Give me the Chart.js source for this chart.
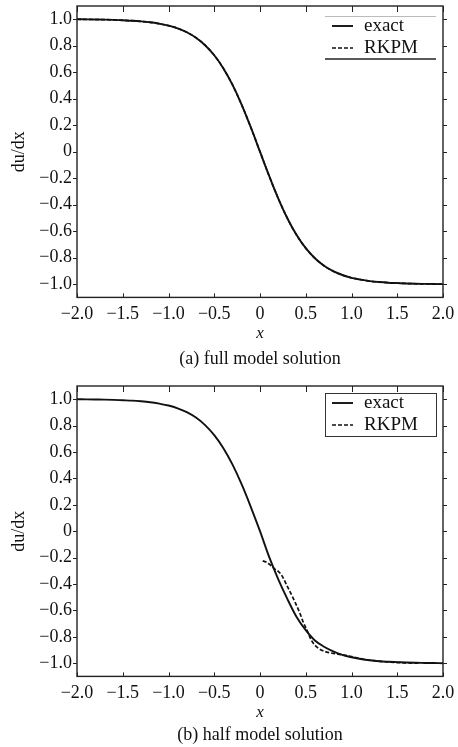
<!DOCTYPE html>
<html>
<head>
<meta charset="utf-8">
<script src="https://cdn.jsdelivr.net/npm/chart.js@4/dist/chart.umd.min.js"></script>
<style>
  html, body { margin: 0; padding: 0; background: #fff; }
  .panel { position: absolute; left: 0; width: 458px; }
</style>
</head>
<body>
<div class="panel" style="top:0;height:372px;"><canvas id="fullChart"></canvas></div>
<div class="panel" style="top:372px;height:375px;"><canvas id="halfChart"></canvas></div>
<script>
// x positions of the sampled curves
const xs = [-2.0, -1.9, -1.8, -1.7, -1.6, -1.5, -1.4, -1.3, -1.2, -1.1,
            -1.0, -0.9, -0.8, -0.7, -0.6, -0.5, -0.4, -0.3, -0.2, -0.1,
             0.0,  0.1,  0.2,  0.3,  0.4,  0.5,  0.6,  0.7,  0.8,  0.9,
             1.0,  1.1,  1.2,  1.3,  1.4,  1.5,  1.6,  1.7,  1.8,  1.9, 2.0];

// (a) full model: exact and RKPM lie on top of each other
const exactFull = [1.000, 0.999, 0.998, 0.997, 0.995, 0.992, 0.989, 0.984, 0.977, 0.966,
                   0.952, 0.931, 0.902, 0.861, 0.804, 0.728, 0.629, 0.504, 0.354, 0.183,
                   0.000, -0.183, -0.354, -0.504, -0.629, -0.728, -0.804, -0.861, -0.902, -0.931,
                   -0.952, -0.966, -0.977, -0.984, -0.989, -0.992, -0.995, -0.997, -0.998, -0.999, -1.000];
const rkpmFull  = [1.000, 0.999, 0.998, 0.997, 0.995, 0.992, 0.989, 0.984, 0.977, 0.966,
                   0.952, 0.931, 0.902, 0.861, 0.804, 0.728, 0.629, 0.504, 0.354, 0.183,
                   0.000, -0.183, -0.354, -0.504, -0.629, -0.728, -0.804, -0.861, -0.902, -0.931,
                   -0.952, -0.966, -0.977, -0.984, -0.989, -0.992, -0.995, -0.997, -0.998, -0.999, -1.000];

// (b) half model
const exactHalf = [1.000, 0.999, 0.998, 0.997, 0.995, 0.992, 0.989, 0.984, 0.977, 0.966,
                   0.952, 0.931, 0.902, 0.861, 0.804, 0.728, 0.629, 0.504, 0.354, 0.183,
                   0.000, -0.195, -0.365, -0.515, -0.650, -0.750, -0.828, -0.875, -0.910, -0.937,
                   -0.955, -0.968, -0.978, -0.985, -0.989, -0.992, -0.995, -0.997, -0.998, -0.999, -1.000];
const rkpmHalfX = [0.03, 0.08, 0.12, 0.16, 0.20, 0.233, 0.30, 0.38, 0.43, 0.47, 0.52, 0.56,
                   0.61, 0.67, 0.73, 0.80, 0.90, 1.00, 1.13, 1.30, 1.49, 1.73];
const rkpmHalfY = [-0.225, -0.238, -0.260, -0.285, -0.305, -0.330, -0.420, -0.533, -0.610, -0.685, -0.760, -0.825,
                   -0.870, -0.900, -0.916, -0.925, -0.937, -0.950, -0.970, -0.985, -0.995, -1.000];

// axis ticks
const xTicks = [-2.0, -1.5, -1.0, -0.5, 0, 0.5, 1.0, 1.5, 2.0];
const xTickLabels = ['\u22122.0', '\u22121.5', '\u22121.0', '\u22120.5', '0', '0.5', '1.0', '1.5', '2.0'];
const yTicks = [-1.0, -0.8, -0.6, -0.4, -0.2, 0, 0.2, 0.4, 0.6, 0.8, 1.0];
const yTickLabels = ['\u22121.0', '\u22120.8', '\u22120.6', '\u22120.4', '\u22120.2', '0', '0.2', '0.4', '0.6', '0.8', '1.0'];

const SERIF = "'Liberation Serif', 'Times New Roman', serif";
const INK = '#111';

// frame round the plot, y ticks outward, x ticks inward
const framePlugin = {
    id: 'frame',
    afterDraw(chart) {
        const { ctx, chartArea: a, scales } = chart;
        ctx.save();
        ctx.strokeStyle = '#222';
        ctx.lineWidth = 1.4;
        ctx.strokeRect(a.left, a.top, a.right - a.left, a.bottom - a.top);
        ctx.lineWidth = 1;
        ctx.beginPath();
        scales.x.ticks.forEach(t => {
            const px = Math.round(scales.x.getPixelForValue(t.value)) + 0.5;
            ctx.moveTo(px, a.bottom); ctx.lineTo(px, a.bottom - 4);
            ctx.moveTo(px, a.top); ctx.lineTo(px, a.top + 6);
        });
        scales.y.ticks.forEach(t => {
            const py = Math.round(scales.y.getPixelForValue(t.value)) + 0.5;
            ctx.moveTo(a.left, py); ctx.lineTo(a.left - 4, py);
            ctx.moveTo(a.right, py); ctx.lineTo(a.right + 4, py);
        });
        ctx.stroke();
        ctx.restore();
    }
};

// legend box in the top right corner of the plot
const boxLegendPlugin = {
    id: 'boxLegend',
    afterDraw(chart, args, opts) {
        const { ctx, chartArea: a } = chart;
        const w = 111, h = 43;
        const left = a.right - 7 - w;
        const top = a.top + opts.offsetTop;
        ctx.save();
        ctx.fillStyle = '#fff';
        ctx.fillRect(left, top, w, h);
        if (opts.fullBox) {
            ctx.strokeStyle = '#333';
            ctx.lineWidth = 1;
            ctx.strokeRect(left + 0.5, top + 0.5, w, h);
        } else {
            ctx.lineWidth = 1;
            ctx.strokeStyle = '#bbb';
            ctx.beginPath(); ctx.moveTo(left, top + 0.5); ctx.lineTo(left + w, top + 0.5); ctx.stroke();
            ctx.strokeStyle = '#222';
            ctx.lineWidth = 1.5;
            ctx.beginPath(); ctx.moveTo(left, top + h); ctx.lineTo(left + w, top + h); ctx.stroke();
        }
        chart.data.datasets.forEach((ds, i) => {
            const y = top + 10 + i * 22;
            ctx.strokeStyle = ds.borderColor;
            ctx.lineWidth = ds.borderWidth;
            ctx.setLineDash(ds.borderDash || []);
            ctx.beginPath(); ctx.moveTo(left + 7, y); ctx.lineTo(left + 28, y); ctx.stroke();
            ctx.setLineDash([]);
            ctx.fillStyle = INK;
            ctx.font = '19px ' + SERIF;
            ctx.textBaseline = 'middle';
            ctx.fillText(ds.label, left + 39, y);
        });
        ctx.restore();
    }
};

function makeChart(canvasId, caption, exactVals, rkpmX, rkpmY, cfg) {
    const ctx = document.getElementById(canvasId).getContext('2d');
    return new Chart(ctx, {
        type: 'line',
        data: {
            datasets: [
                {
                    label: 'exact',
                    data: xs.map((x, i) => ({ x: x, y: exactVals[i] })),
                    borderColor: INK,
                    borderWidth: 1.9,
                    pointRadius: 0,
                    cubicInterpolationMode: 'monotone'
                },
                {
                    label: 'RKPM',
                    data: rkpmX.map((x, i) => ({ x: x, y: rkpmY[i] })),
                    borderColor: INK,
                    borderWidth: 1.7,
                    borderDash: [4, 2],
                    pointRadius: 0,
                    cubicInterpolationMode: 'monotone'
                }
            ]
        },
        options: {
            responsive: true,
            maintainAspectRatio: false,
            animation: false,
            layout: { padding: { top: cfg.padTop, right: 15, left: 0, bottom: 0 } },
            plugins: {
                legend: { display: false },
                tooltip: { enabled: false },
                title: {
                    display: true,
                    position: 'bottom',
                    fullSize: false,
                    text: caption,
                    color: INK,
                    font: { family: SERIF, size: 18, weight: 'normal' },
                    padding: { top: 0, bottom: cfg.captionPad }
                },
                boxLegend: { fullBox: cfg.fullBox, offsetTop: cfg.legendTop }
            },
            scales: {
                x: {
                    type: 'linear',
                    min: -2,
                    max: 2,
                    afterBuildTicks: s => { s.ticks = xTicks.map(v => ({ value: v })); },
                    afterFit: s => { s.paddingLeft = 0; s.paddingRight = 0; s.height = cfg.xAxisH; },
                    grid: { display: false, drawTicks: false },
                    border: { display: false },
                    ticks: {
                        autoSkip: false,
                        maxRotation: 0,
                        padding: 6,
                        color: INK,
                        font: { family: SERIF, size: 18 },
                        callback: (v, i) => xTickLabels[i]
                    },
                    title: {
                        display: true,
                        text: 'x',
                        color: INK,
                        font: { family: SERIF, size: 17, style: 'italic' },
                        padding: { top: 0, bottom: cfg.xTitlePad }
                    }
                },
                y: {
                    min: -1.1,
                    max: 1.1,
                    afterBuildTicks: s => { s.ticks = yTicks.map(v => ({ value: v })); },
                    afterFit: s => { s.width = 77; s.paddingTop = 0; s.paddingBottom = 0; },
                    grid: { display: false, drawTicks: false },
                    border: { display: false },
                    ticks: {
                        padding: 5,
                        color: INK,
                        font: { family: SERIF, size: 18 },
                        callback: (v, i) => yTickLabels[i]
                    },
                    title: {
                        display: true,
                        text: 'du/dx',
                        color: INK,
                        font: { family: SERIF, size: 18 },
                        padding: { top: 8, bottom: 0 }
                    }
                }
            }
        },
        plugins: [framePlugin, boxLegendPlugin]
    });
}

makeChart('fullChart', '(a) full model solution', exactFull, xs, rkpmFull,
    { padTop: 6, captionPad: 2, xAxisH: 51, xTitlePad: 5, fullBox: false, legendTop: 10 });
makeChart('halfChart', '(b) half model solution', exactHalf, rkpmHalfX, rkpmHalfY,
    { padTop: 14, captionPad: 1, xAxisH: 48, xTitlePad: 2, fullBox: true, legendTop: 7 });
</script>
</body>
</html>
